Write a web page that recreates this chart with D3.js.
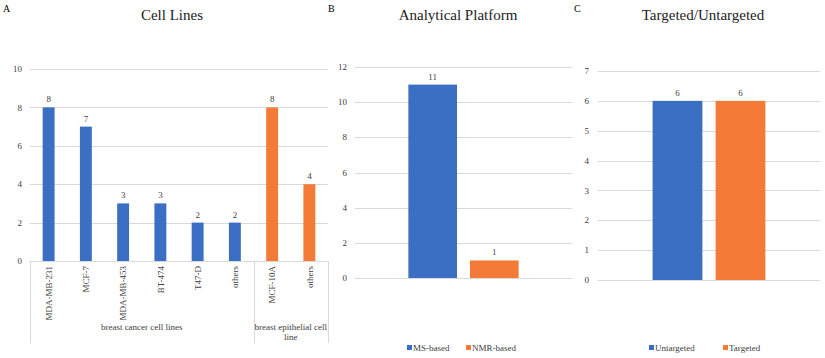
<!DOCTYPE html>
<html>
<head>
<meta charset="utf-8">
<script src="https://cdn.jsdelivr.net/npm/d3@7"></script>
<style>
  body { margin: 0; background: #fff; }
  text { font-family: "Liberation Serif", "Times New Roman", "DejaVu Serif", serif; }
</style>
</head>
<body>
<svg id="chart" width="825" height="358"></svg>
<script>
// Panel A data
const cellLines = ["MDA-MB-231", "MCF-7", "MDA-MB-453", "BT-474", "T47-D", "others", "MCF-10A", "others"];
const cellCounts = [8, 7, 3, 3, 2, 2, 8, 4];
const cellGroup = [0, 0, 0, 0, 0, 0, 1, 1];
const groupNames = [["breast cancer cell lines"], ["breast epithelial cell", "line"]];
const cellTicks = [0, 2, 4, 6, 8, 10];

// Panel B data
const platforms = ["MS-based", "NMR-based"];
const platformCounts = [11, 1];
const platformTicks = [0, 2, 4, 6, 8, 10, 12];

// Panel C data
const approaches = ["Untargeted", "Targeted"];
const approachCounts = [6, 6];
const approachTicks = [0, 1, 2, 3, 4, 5, 6, 7];

const BLUE = "#3a6fc4", ORANGE = "#f47a37", GRID = "#d9d9d9", TXT = "#404040";
const FONT = "'Liberation Serif', 'Times New Roman', 'DejaVu Serif', serif";
const svg = d3.select("#chart").attr("font-family", FONT);

function gridAndAxis(y, ticks, x0, x1, labelX) {
  const g = svg.append("g");
  g.selectAll("line").data(ticks).join("line")
    .attr("x1", x0).attr("x2", x1)
    .attr("y1", d => Math.round(y(d)) + 0.5).attr("y2", d => Math.round(y(d)) + 0.5)
    .attr("stroke", GRID).attr("stroke-width", 1);
  g.selectAll("text").data(ticks).join("text")
    .attr("x", labelX).attr("y", d => y(d)).attr("dy", "0.35em")
    .attr("text-anchor", "end").style("font-size", "9px").attr("fill", TXT)
    .text(d => d);
}

function heading(letter, lx, title, tx) {
  svg.append("text").attr("x", lx).attr("y", 12).style("font-size", "10px").text(letter);
  svg.append("text").attr("x", tx).attr("y", 20).attr("text-anchor", "middle")
    .style("font-size", "15px").attr("fill", "#222").text(title);
}

// ---------- A: Cell Lines ----------
{
  const y = d3.scaleLinear().domain([0, 10]).range([261, 69]);
  const x = d3.scaleBand().domain(d3.range(cellLines.length)).range([30, 328])
    .paddingInner(0.68).paddingOuter(0.34);
  gridAndAxis(y, cellTicks, 30, 328, 22);

  svg.append("g").selectAll("rect").data(cellCounts).join("rect")
    .attr("x", (d, i) => x(i)).attr("width", x.bandwidth())
    .attr("y", d => y(d)).attr("height", d => y(0) - y(d))
    .attr("fill", (d, i) => cellGroup[i] ? ORANGE : BLUE);

  svg.append("g").selectAll("text").data(cellCounts).join("text")
    .attr("x", (d, i) => x(i) + x.bandwidth() / 2).attr("y", d => y(d) - 5)
    .attr("text-anchor", "middle").style("font-size", "9px").attr("fill", TXT)
    .text(d => d);

  // rotated category labels
  svg.append("g").selectAll("text").data(cellLines).join("text")
    .attr("transform", (d, i) => `translate(${x(i) + x.bandwidth() / 2},266) rotate(-90)`)
    .attr("dy", "0.35em").attr("text-anchor", "end")
    .style("font-size", "9px").attr("fill", TXT).text(d => d);

  // group separators
  const step = x.step(), start = x.range()[0];
  const seps = [0, 6, 8].map(k => start + k * step);
  svg.append("g").selectAll("line").data(seps).join("line")
    .attr("x1", d => Math.round(d) + 0.5).attr("x2", d => Math.round(d) + 0.5)
    .attr("y1", y(0)).attr("y2", 343).attr("stroke", GRID);

  groupNames.forEach((lines, gi) => {
    const cx = (seps[gi] + seps[gi + 1]) / 2;
    lines.forEach((t, li) => {
      svg.append("text").attr("x", cx).attr("y", 330 + li * 10)
        .attr("text-anchor", "middle").style("font-size", "9px").attr("fill", TXT).text(t);
    });
  });

  heading("A", 3, "Cell Lines", 172);
}

function groupedPanel(names, counts, ticks, yMax, yRange, xRange, labelX, legendX) {
  const y = d3.scaleLinear().domain([0, yMax]).range(yRange);
  gridAndAxis(y, ticks, xRange[0], xRange[1], labelX);
  const x0 = d3.scaleBand().domain(["all"]).range(xRange).paddingInner(0).paddingOuter(0.484);
  const x1 = d3.scaleBand().domain(names).range([0, x0.bandwidth()]).paddingInner(0.21).paddingOuter(0);
  const colors = [BLUE, ORANGE];
  const g = svg.append("g").attr("transform", `translate(${x0("all")},0)`);
  g.selectAll("rect").data(counts).join("rect")
    .attr("x", (d, i) => x1(names[i])).attr("width", x1.bandwidth())
    .attr("y", d => y(d)).attr("height", d => y(0) - y(d))
    .attr("fill", (d, i) => colors[i]);
  g.selectAll("text").data(counts).join("text")
    .attr("x", (d, i) => x1(names[i]) + x1.bandwidth() / 2).attr("y", d => y(d) - 5)
    .attr("text-anchor", "middle").style("font-size", "9px").attr("fill", TXT).text(d => d);

  const lg = svg.append("g");
  names.forEach((n, i) => {
    lg.append("rect").attr("x", legendX[i]).attr("y", 345).attr("width", 5).attr("height", 5).attr("fill", colors[i]);
    lg.append("text").attr("x", legendX[i] + 6).attr("y", 351).style("font-size", "9px").attr("fill", TXT).text(n);
  });
}

// ---------- B: Analytical Platform ----------
groupedPanel(platforms, platformCounts, platformTicks, 12, [278, 67], [355, 572], 347, [407, 466]);
heading("B", 328, "Analytical Platform", 458);

// ---------- C: Targeted/Untargeted ----------
groupedPanel(approaches, approachCounts, approachTicks, 7, [280, 71], [598, 820], 589, [649, 723]);
heading("C", 574, "Targeted/Untargeted", 703);
</script>
</body>
</html>
